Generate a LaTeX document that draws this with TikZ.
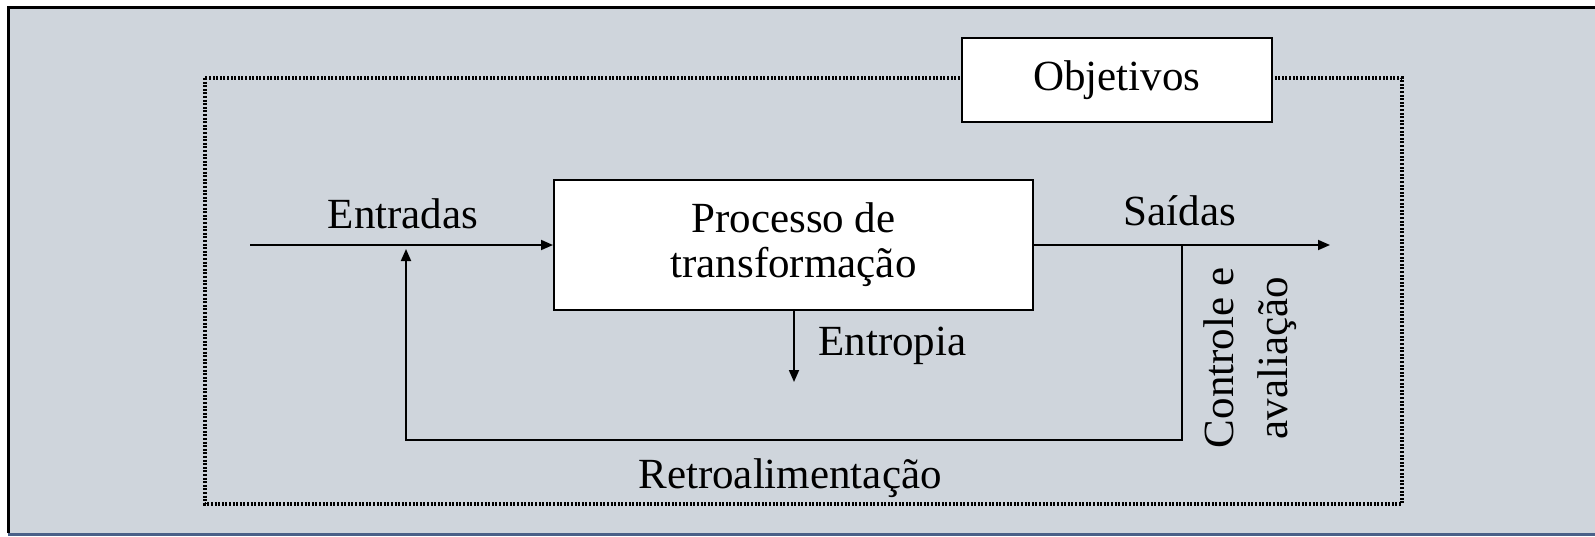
\documentclass[tikz,border=0pt]{standalone}
\usepackage{fontspec}
\setmainfont{Liberation Serif}
\usetikzlibrary{arrows.meta}
\definecolor{panel}{HTML}{CFD5DC}
\definecolor{rim}{HTML}{4A6088}
\tikzset{
  box/.style={draw, fill=white, line width=1pt, inner sep=0pt},
  flow/.style={line width=0.9pt},
  tip/.style={-{Triangle[length=6pt,width=5pt]}},
  lbl/.style={inner sep=0pt, anchor=base},
  dots/.style={line width=1.6pt, dash pattern=on 1pt off 0.8pt},
}
\begin{document}
\begin{tikzpicture}[x=0.5pt, y=-0.5pt, font=\fontsize{21.5}{22.5}\selectfont]
  \useasboundingbox (0,0) rectangle (1595,536);
  \fill[white] (0,0) rectangle (1595,536);
  \fill[panel] (8,7) rectangle (1595,533);
  \draw[line width=1.5pt] (1595,7) -- (8,7) -- (8,533);
  \draw[rim, line width=1.5pt] (8,534) -- (1595,534);

  % dotted frame and goals
  \draw[dots] (205,78) rectangle (1402,504);
  \node[box, minimum width=155pt, minimum height=42pt] (obj) at (1117,80)
  {Objetivos};

  % process
  \node[box, minimum width=239.5pt, minimum height=65pt, align=center]
  (proc) at (793.5,245) {Processo de\\transformação};

  \coordinate (in)   at (250,245);
  \coordinate (out)  at (1330,245);
  \coordinate (fbr)  at (1182,245);
  \coordinate (fbdr) at (1182,440);
  \coordinate (fbdl) at (406,440);
  \coordinate (fbl)  at (406,249);
  \coordinate (entb) at (794,382);

  \draw[flow, tip] (in) -- (proc.west);
  \draw[flow, tip] (proc.east) -- (out);
  \draw[flow, tip] (fbr) -- (fbdr) -- (fbdl) -- (fbl);
  \draw[flow, tip] (proc.south -| entb) -- (entb);

  \node[lbl] (ent) at (403,228) {Entradas};
  \node[lbl] (sai) at (1180,225) {Saídas};
  \node[lbl, anchor=base west] (entr) at (818,355) {Entropia};
  \node[lbl] (retro) at (790,488) {Retroalimentação};
  \node[rotate=90, align=center, inner sep=0pt,
  font=\fontsize{21.5}{27}\selectfont] (ctrl) at (1250,358)
  {Controle e\\avaliação};
\end{tikzpicture}
\end{document}
